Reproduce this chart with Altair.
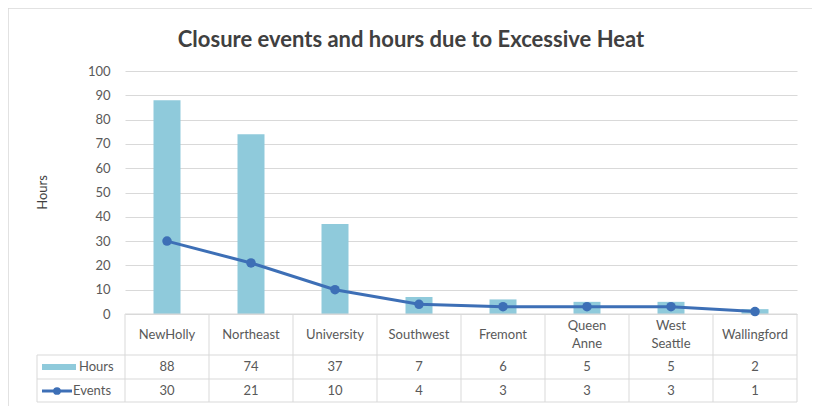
import altair as alt
import pandas as pd

sites = ["NewHolly", "Northeast", "University", "Southwest", "Fremont",
         "Queen Anne", "West Seattle", "Wallingford"]
site_labels = ["NewHolly", "Northeast", "University", "Southwest", "Fremont",
               "Queen\nAnne", "West\nSeattle", "Wallingford"]
hours = [88, 74, 37, 7, 6, 5, 5, 2]
events = [30, 21, 10, 4, 3, 3, 3, 1]
y_ticks = list(range(0, 101, 10))
title_text = "Closure events and hours due to Excessive Heat"

df = pd.DataFrame({"site": sites, "label": site_labels, "Hours": hours, "Events": events})
one = pd.DataFrame({"k": [0]})

W, H = 672, 243
FONT = "Lato"
TXT = "#595959"
GRID = "#d9d9d9"
BAR = "#8fcadb"
LINE = "#3d6fb6"

xenc = alt.X("site:N", sort=sites, scale=alt.Scale(paddingInner=0, paddingOuter=0), axis=None)
yscale = alt.Scale(domain=[0, 100])
yaxis = alt.Axis(values=y_ticks, title="Hours", grid=True, gridColor=GRID,
                 domain=False, ticks=False, labelPadding=15,
                 labelFont=FONT, labelFontSize=13, labelColor=TXT,
                 titleFont=FONT, titleFontSize=13, titleColor="#404040",
                 titleFontWeight="normal", titleX=-83, titleY=121,
                 titleAngle=-90, titleAlign="center", titleBaseline="middle")

base = alt.Chart(df)

bars = base.mark_bar(color=BAR, size=27).encode(
    x=xenc, y=alt.Y("Hours:Q", scale=yscale, axis=yaxis, title="Hours"))
line = base.mark_line(color=LINE, strokeWidth=3).encode(
    x=xenc, y=alt.Y("Events:Q", scale=yscale, axis=yaxis, title="Hours"))
pts = base.mark_point(color=LINE, filled=True, opacity=1, size=90).encode(
    x=xenc, y=alt.Y("Events:Q", scale=yscale, axis=yaxis, title="Hours"))

# table text
cat1 = base.transform_filter("indexof(datum.label, '\\n') < 0").mark_text(
    font=FONT, fontSize=13, color=TXT, baseline="middle").encode(
    x=xenc, y=alt.value(264), text="label:N")
cat2 = base.transform_filter("indexof(datum.label, '\\n') >= 0").mark_text(
    font=FONT, fontSize=13, color=TXT, lineBreak="\n", baseline="middle", lineHeight=18).encode(
    x=xenc, y=alt.value(255), text="label:N")
hrs_txt = base.mark_text(font=FONT, fontSize=13, color=TXT, baseline="middle").encode(
    x=xenc, y=alt.value(296), text="Hours:Q")
evt_txt = base.mark_text(font=FONT, fontSize=13, color=TXT, baseline="middle").encode(
    x=xenc, y=alt.value(320), text="Events:Q")

# table grid
vlines = base.mark_rule(color=GRID, strokeWidth=1).encode(
    x=alt.X("site:N", sort=sites, bandPosition=0,
            scale=alt.Scale(paddingInner=0, paddingOuter=0), axis=None),
    y=alt.value(243), y2=alt.value(331))
oc = alt.Chart(one)
rules = [
    oc.mark_rule(color=GRID).encode(x=alt.value(W), y=alt.value(243), y2=alt.value(331)),
    oc.mark_rule(color=GRID).encode(x=alt.value(-88), y=alt.value(284), y2=alt.value(331)),
    oc.mark_rule(color=GRID).encode(x=alt.value(0), x2=alt.value(W), y=alt.value(243)),
    oc.mark_rule(color=GRID).encode(x=alt.value(-88), x2=alt.value(W), y=alt.value(284)),
    oc.mark_rule(color=GRID).encode(x=alt.value(-88), x2=alt.value(W), y=alt.value(308)),
    oc.mark_rule(color=GRID).encode(x=alt.value(-88), x2=alt.value(W), y=alt.value(331)),
]

# legend keys
leg = [
    oc.mark_rect(color=BAR).encode(x=alt.value(-83), x2=alt.value(-49),
                                   y=alt.value(293), y2=alt.value(299)),
    oc.mark_text(font=FONT, fontSize=13, color=TXT, align="left", baseline="middle").encode(
        x=alt.value(-46), y=alt.value(296), text=alt.value("Hours")),
    oc.mark_rule(color=LINE, strokeWidth=3).encode(x=alt.value(-83), x2=alt.value(-53),
                                                   y=alt.value(320)),
    oc.mark_point(color=LINE, filled=True, opacity=1, size=60).encode(
        x=alt.value(-68), y=alt.value(320)),
    oc.mark_text(font=FONT, fontSize=13, color=TXT, align="left", baseline="middle").encode(
        x=alt.value(-52), y=alt.value(320), text=alt.value("Events")),
]

title = oc.mark_text(font=FONT, fontSize=22, fontWeight="bold", color="#404040",
                     align="center", baseline="middle").encode(
    x=alt.value(286), y=alt.value(-31), text=alt.value(title_text))

frame = oc.mark_rect(fill=None, stroke="#d9d9d9", strokeWidth=1.5).encode(
    x=alt.value(-117), x2=alt.value(688), y=alt.value(-63), y2=alt.value(360))

chart = alt.layer(
    frame, bars, *rules, vlines, line, pts, cat1, cat2, hrs_txt, evt_txt, *leg, title
).properties(
    width=W, height=H,
    background="white",
    padding={"left": 117, "top": 63, "right": 15, "bottom": 92},
    autosize=alt.AutoSizeParams(type="none"),
).configure_view(stroke="transparent", strokeWidth=0)

chart.save("out.html", embed_options={"renderer": "svg", "actions": False})
